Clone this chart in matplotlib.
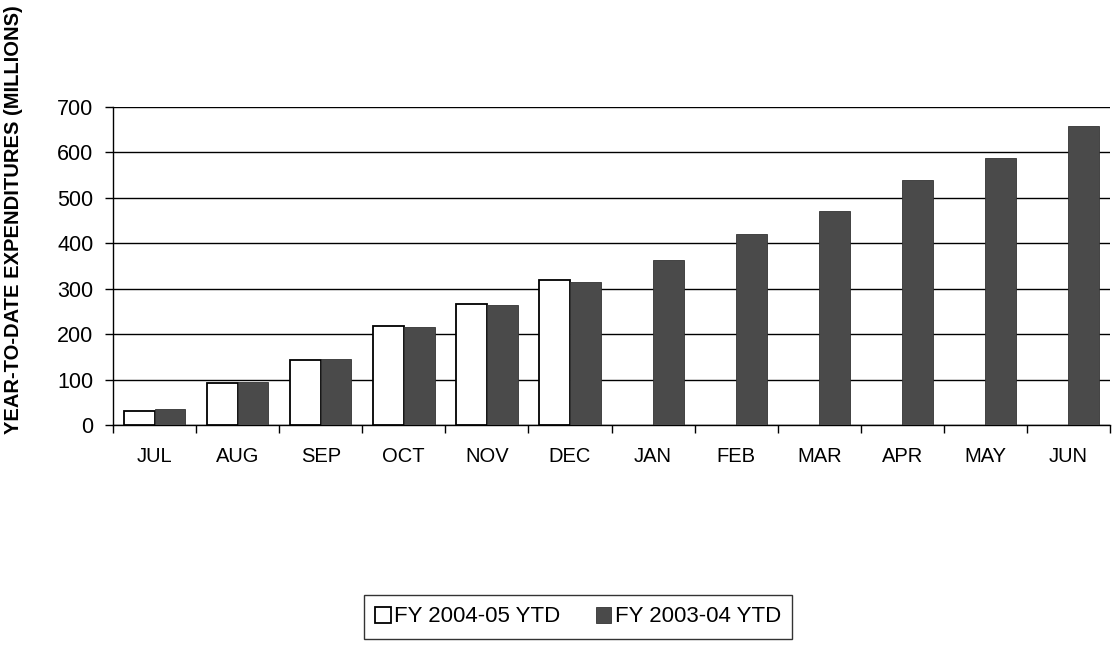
import matplotlib
matplotlib.use("Agg")
import matplotlib.pyplot as plt
import numpy as np

months = ["JUL", "AUG", "SEP", "OCT", "NOV", "DEC",
          "JAN", "FEB", "MAR", "APR", "MAY", "JUN"]
fy_2004_05 = [31, 93, 144, 217, 267, 319]
fy_2003_04 = [36, 94, 146, 215, 265, 315, 364, 420, 472, 540, 587, 659]
y_ticks = [0, 100, 200, 300, 400, 500, 600, 700]

plt.rcParams["font.family"] = ["Liberation Sans", "DejaVu Sans"]

fig = plt.figure(figsize=(11.14, 6.47), dpi=100)
ax = fig.add_axes([113 / 1114, 1 - 425 / 647, 997 / 1114, 318 / 647])

x = np.arange(len(months))
w = 0.37
ax.bar(x[:len(fy_2004_05)] - w / 2, fy_2004_05, width=w, color="white",
       edgecolor="black", linewidth=1.3, label="FY 2004-05 YTD", zorder=3)
ax.bar(x + w / 2, fy_2003_04, width=w, color="#4a4a4a",
       edgecolor="#333333", linewidth=0.6, label="FY 2003-04 YTD", zorder=3)

ax.set_xlim(-0.5, len(months) - 0.5)
ax.set_ylim(0, 700)
ax.set_yticks(y_ticks)
ax.yaxis.grid(True, color="black", linewidth=1.0, zorder=0)
ax.set_axisbelow(True)

ax.set_xticks(x)
ax.set_xticklabels(months, fontsize=14.5)
ax.set_xticks(np.arange(-0.5, len(months)), minor=True)
ax.tick_params(axis="x", which="major", length=0, pad=16)
ax.tick_params(axis="x", which="minor", length=6, width=1, direction="out")
ax.tick_params(axis="y", length=6, width=1, direction="out", labelsize=15.5, pad=8)

for s in ["top", "right"]:
    ax.spines[s].set_visible(False)
ax.spines["left"].set_linewidth(1.0)
ax.spines["bottom"].set_linewidth(1.0)

fig.text(14 / 1114, 1 - 220 / 647, "YEAR-TO-DATE EXPENDITURES (MILLIONS)",
         rotation=90, ha="center", va="center", fontsize=14.5, fontweight="bold")

leg = fig.legend(loc="center", bbox_to_anchor=(578 / 1114, 1 - 617 / 647),
                 ncol=2, fontsize=16, frameon=True, fancybox=False,
                 edgecolor="black", handlelength=0.7, handleheight=0.7,
                 handletextpad=0.15, columnspacing=1.6, borderpad=0.5)
leg.get_frame().set_linewidth(1.0)

fig.savefig("out.png", dpi=100)
